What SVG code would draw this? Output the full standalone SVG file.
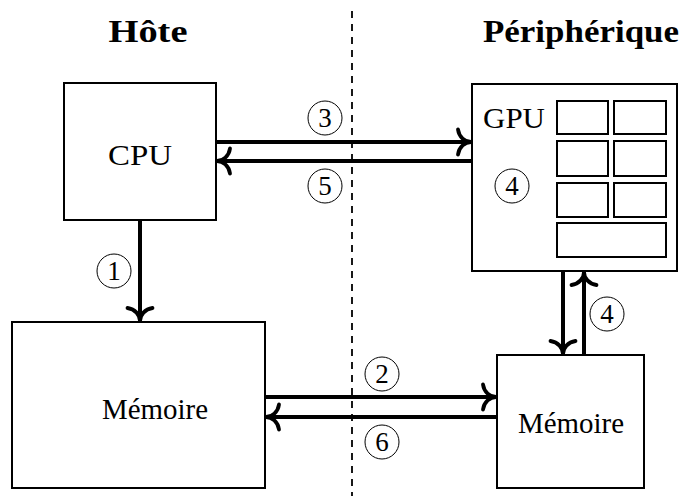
<svg xmlns="http://www.w3.org/2000/svg" width="684" height="496" viewBox="0 0 684 496">
<style>
.box{fill:#fff;stroke:#000;stroke-width:2}
.cell{fill:#fff;stroke:#000;stroke-width:2}
.lbl{font-family:"Liberation Serif","Times New Roman",serif;font-size:30px;fill:#000;text-anchor:middle}
.title{font-family:"Liberation Serif","Times New Roman",serif;font-size:31px;font-weight:bold;fill:#000;text-anchor:middle}
.num{font-family:"Liberation Serif","Times New Roman",serif;font-size:27px;fill:#000;text-anchor:middle}
.circ{fill:none;stroke:#000;stroke-width:1}
.arr{stroke:#000;stroke-width:4;fill:none;marker-end:url(#to)}
.sep{stroke:#000;stroke-width:1.8;stroke-dasharray:7 6}
</style>
<defs>
<marker id="to" markerUnits="userSpaceOnUse" viewBox="-16 -16 20 32" refX="0" refY="0" markerWidth="20" markerHeight="32" orient="auto" overflow="visible">
<path d="M-13,-12.5 C-12,-5 -6,0 0,0 C-6,0 -12,5 -13,12.5" fill="none" stroke="#000" stroke-width="3.8" stroke-linecap="round"/>
</marker>
</defs>
<g id="titles">
<text class="title" x="148" y="42" textLength="79" lengthAdjust="spacingAndGlyphs">Hôte</text>
<text class="title" x="581" y="42" textLength="196" lengthAdjust="spacingAndGlyphs">Périphérique</text>
</g>
<line id="separator" class="sep" x1="352" y1="11" x2="352" y2="496"/>
<g id="cpu">
<rect class="box" x="64" y="83" width="152" height="137"/>
<text class="lbl" x="140" y="165" textLength="64" lengthAdjust="spacingAndGlyphs">CPU</text>
</g>
<g id="host-memory">
<rect class="box" x="12" y="322" width="253" height="166"/>
<text class="lbl" x="155" y="419" textLength="106" lengthAdjust="spacingAndGlyphs">Mémoire</text>
</g>
<g id="gpu">
<rect class="box" x="472" y="84" width="205" height="187"/>
<text class="lbl" x="514" y="128" textLength="62" lengthAdjust="spacingAndGlyphs">GPU</text>
<rect class="cell" x="557" y="101" width="51" height="33"/>
<rect class="cell" x="614" y="101" width="52" height="33"/>
<rect class="cell" x="557" y="141" width="51" height="35"/>
<rect class="cell" x="614" y="141" width="52" height="35"/>
<rect class="cell" x="557" y="183" width="51" height="34"/>
<rect class="cell" x="614" y="183" width="52" height="34"/>
<rect class="cell" x="557" y="223" width="109" height="34"/>
<circle class="circ" cx="512" cy="186" r="17"/>
<text class="num" x="512" y="195">4</text>
</g>
<g id="device-memory">
<rect class="box" x="497" y="355" width="147" height="133"/>
<text class="lbl" x="571" y="433" textLength="106" lengthAdjust="spacingAndGlyphs">Mémoire</text>
</g>
<g id="connectors">
<line class="arr" x1="140" y1="220" x2="140" y2="321"/>
<line class="arr" x1="216" y1="142" x2="471" y2="142"/>
<line class="arr" x1="472" y1="161" x2="217" y2="161"/>
<line class="arr" x1="265" y1="397" x2="496" y2="397"/>
<line class="arr" x1="497" y1="417" x2="266" y2="417"/>
<line class="arr" x1="563" y1="271" x2="563" y2="354"/>
<line class="arr" x1="584" y1="355" x2="584" y2="272"/>
</g>
<g id="labels">
<circle class="circ" cx="114" cy="271" r="17"/><text class="num" x="114" y="280">1</text>
<circle class="circ" cx="382" cy="374" r="17"/><text class="num" x="382" y="383">2</text>
<circle class="circ" cx="325" cy="118" r="17"/><text class="num" x="325" y="127">3</text>
<circle class="circ" cx="325" cy="186" r="17"/><text class="num" x="325" y="195">5</text>
<circle class="circ" cx="382" cy="442" r="17"/><text class="num" x="382" y="451">6</text>
<circle class="circ" cx="607" cy="314" r="17"/><text class="num" x="607" y="323">4</text>
</g>
</svg>
